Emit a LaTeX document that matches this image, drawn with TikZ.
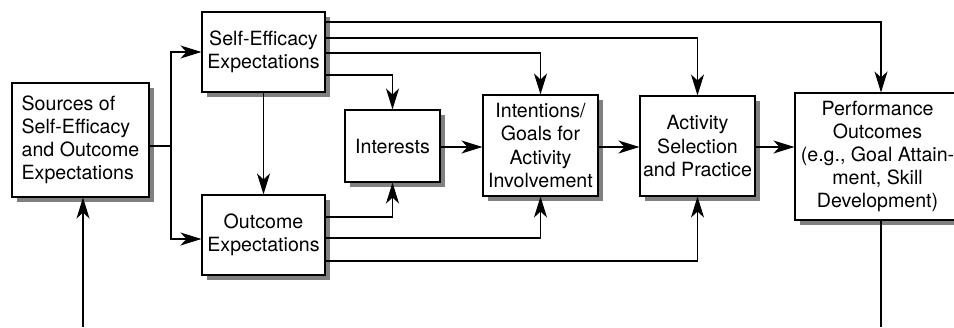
\documentclass[tikz,border=0pt]{standalone}
\usepackage{fontspec}
\setmainfont{TeX Gyre Heros}
\usetikzlibrary{arrows.meta}

\definecolor{shadowgray}{RGB}{128,128,130}
\tikzset{
  stagebox/.style={draw, line width=1.1pt, fill=white, inner sep=0pt, align=center,
    font=\fontsize{19.6}{23.2}\selectfont},
  boxshadow/.style={fill=shadowgray},
  link/.style={line width=1.1pt},
  arr/.style={link, -{Stealth[length=21pt, width=13pt, inset=6pt]}}
}

\begin{document}
\begin{tikzpicture}[x=1pt, y=-1pt]
  \useasboundingbox (0,0) rectangle (954,327);
  \begin{scope}
  \clip (0,0) rectangle (954,327);
  \fill[white] (0,0) rectangle (954,327);

  % offset shadows behind the stages
  \fill[boxshadow] (17,88) rectangle (154,202);
  \fill[boxshadow] (207,17) rectangle (330,97);
  \fill[boxshadow] (207,200) rectangle (330,280);
  \fill[boxshadow] (350,115) rectangle (445,187);
  \fill[boxshadow] (488,100) rectangle (603,201);
  \fill[boxshadow] (645,101) rectangle (760,201);
  \fill[boxshadow] (800,98) rectangle (954,225);

  % stages of the model
  \node[stagebox, align=left, minimum width=137pt, minimum height=114pt] (src) at (80.5,140)
    {Sources of\\Self-Efficacy\\and Outcome\\Expectations};
  \node[stagebox, minimum width=123pt, minimum height=80pt] (se) at (263.5,52)
    {Self-Efficacy\\Expectations};
  \node[stagebox, minimum width=123pt, minimum height=80pt] (oe) at (263.5,235)
    {Outcome\\Expectations};
  \node[stagebox, minimum width=95pt, minimum height=72pt] (int) at (392.5,146)
    {Interests};
  \node[stagebox, minimum width=115pt, minimum height=101pt] (goal) at (540.5,145.5)
    {Intentions/\\Goals for\\Activity\\Involvement};
  \node[stagebox, minimum width=115pt, minimum height=100pt] (act) at (697.5,146)
    {Activity\\Selection\\and Practice};
  \node[stagebox, minimum width=165pt, minimum height=127pt] (perf) at (877.5,156.5)
    {Performance\\Outcomes\\(e.g., Goal Attain-\\ment, Skill\\Development)};

  % sources split to both expectations
  \coordinate (fork) at (171,146);
  \draw[link] (src.east |- fork) -- (fork);
  \draw[arr] (fork) |- (se.west);
  \draw[arr] (fork) |- (oe.west |- 0,239);
  \draw[arr] (se.south) -- (oe.north);

  % self-efficacy paths
  \draw[arr] (se.east |- 0,22) -| (perf.north -| 881,0);
  \draw[arr] (se.east |- 0,38) -| (act.north);
  \draw[arr] (se.east |- 0,53) -| (goal.north);
  \draw[arr] (se.east |- 0,75) -| (int.north);

  % outcome expectation paths
  \draw[arr] (oe.east |- 0,217) -| (int.south);
  \draw[arr] (oe.east |- 0,238) -| (goal.south);
  \draw[arr] (oe.east |- 0,261) -| (act.south);

  % main chain
  \draw[arr] (int.east |- 0,147) -- (goal.west |- 0,147);
  \draw[arr] (goal.east |- 0,147) -- (act.west |- 0,147);
  \draw[arr] (act.east |- 0,147) -- (perf.west |- 0,147);

  % feedback loop ends
  \coordinate (fbin) at (83,327);
  \coordinate (fbout) at (881,327);
  \draw[arr] (fbin) -- (src.south -| fbin);
  \draw[link] (perf.south -| fbout) -- (fbout);
  \end{scope}
\end{tikzpicture}
\end{document}
